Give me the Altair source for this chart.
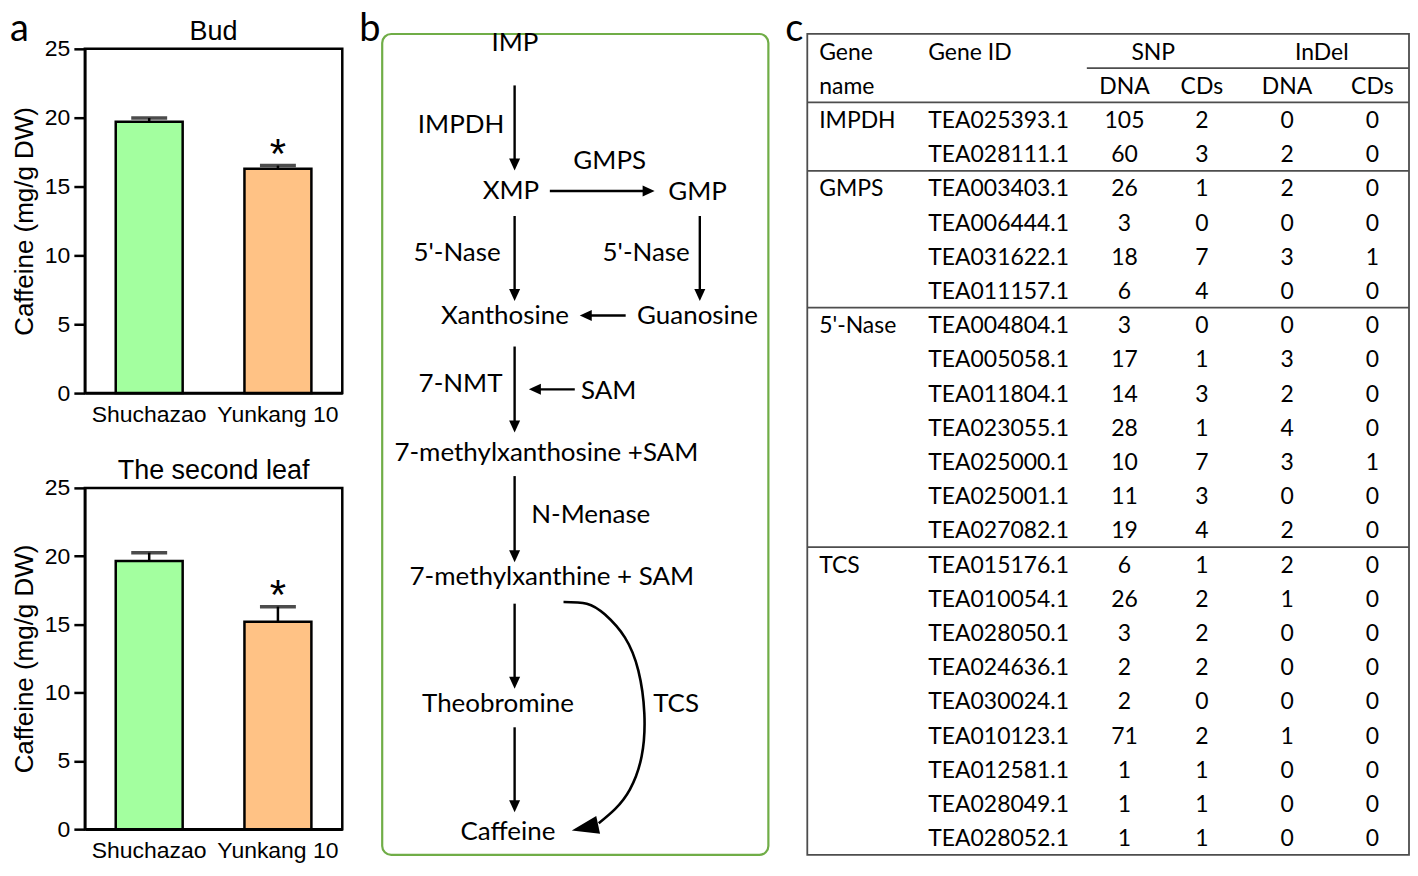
import altair as alt
import pandas as pd

AR = "Liberation Sans"
LT = "Lato"

# ---------------- panel a : caffeine content ----------------
cultivars = ["Shuchazao", "Yunkang 10"]
bud_mean = [19.7, 16.3]
bud_sd = [0.27, 0.22]
leaf_mean = [19.65, 15.2]
leaf_sd = [0.6, 1.1]
significance = ["", "*"]
bar_colors = ["#A3FF9F", "#FFC285"]
panel_titles = ["Bud", "The second leaf"]
panel_letters = ["a", "b", "c"]
y_ticks = [0, 5, 10, 15, 20, 25]

# ---------------- panel b : caffeine biosynthesis pathway ----------------
metabolites = ["IMP", "XMP", "GMP", "Xanthosine", "Guanosine",
               "7-methylxanthosine +SAM", "7-methylxanthine + SAM",
               "Theobromine", "Caffeine"]
enzymes = ["IMPDH", "GMPS", "5'-Nase", "5'-Nase", "7-NMT", "SAM", "N-Menase", "TCS"]

# ---------------- panel c : variants table ----------------
gene_names = ["IMPDH", "GMPS", "5'-Nase", "TCS"]
gene_counts = [2, 4, 7, 9]
gene_ids = ["TEA025393.1", "TEA028111.1",
            "TEA003403.1", "TEA006444.1", "TEA031622.1", "TEA011157.1",
            "TEA004804.1", "TEA005058.1", "TEA011804.1", "TEA023055.1",
            "TEA025000.1", "TEA025001.1", "TEA027082.1",
            "TEA015176.1", "TEA010054.1", "TEA028050.1", "TEA024636.1",
            "TEA030024.1", "TEA010123.1", "TEA012581.1", "TEA028049.1",
            "TEA028052.1"]
snp_dna = [105, 60, 26, 3, 18, 6, 3, 17, 14, 28, 10, 11, 19, 6, 26, 3, 2, 2, 71, 1, 1, 1]
snp_cds = [2, 3, 1, 0, 7, 4, 0, 1, 3, 1, 7, 3, 4, 1, 2, 2, 2, 0, 2, 1, 1, 1]
indel_dna = [0, 2, 2, 0, 3, 0, 0, 3, 2, 4, 3, 0, 2, 2, 1, 0, 0, 0, 1, 0, 0, 0]
indel_cds = [0, 0, 0, 0, 1, 0, 0, 0, 0, 0, 1, 0, 0, 0, 0, 0, 0, 0, 0, 0, 0, 0]
header_top = ["Gene", "Gene ID", "SNP", "InDel"]
header_sub = ["name", "DNA", "CDs", "DNA", "CDs"]

# ---------------- layout (not data) ----------------
A_W, A_H1, A_H2 = 258, 345, 342
A_GAP = 95                      # plot-to-plot gap in panel a
TOTAL_H = A_H1 + A_GAP + A_H2
A_VSP = 28
B_W, C_W, H_SP = 387, 603, 15
LETTER_Y = -8

# diagram frame (reference pixel frame of panel b)
B_XDOM = [380, 767]
B_YDOM = [48, 837]
metab_pos = [(513, 50), (509, 200), (696, 201), (503, 326), (696, 326),
             (544.5, 465), (550, 590), (496, 719), (506, 848)]
enz_pos = [(459, 133), (608, 170), (455, 263), (644.5, 263), (458.5, 395),
           (607, 402), (589, 527), (674.5, 719)]
arrow_paths = [(512.7, 85, 512.7, 171), (548, 191.7, 653, 191.7),
               (512.7, 217, 512.7, 303), (698.3, 217, 698.3, 303),
               (624, 317.7, 578, 317.7), (512.7, 349, 512.7, 436),
               (573, 392.3, 527, 392.3), (512.7, 480, 512.7, 567),
               (512.7, 609, 512.7, 695), (512.7, 734, 512.7, 820)]
tcs_curve = [(561.7, 607.3), (585, 609), (603.3, 620), (623.3, 643.3),
             (636.7, 676.7), (642.7, 720), (640, 763.3), (628.3, 796.7),
             (613.3, 816.7), (597, 831)]
tcs_head = (570, 838.3, 78)
green_box = (380, 33, 767, 863)

# table frame
C_XDOM = [806, 1413]
ROW_H = 34.52
C_YDOM = [-2.5 + (48 - 33) / ROW_H, 21.5 - (863 - 837) / ROW_H]
col_x = {"name": 818, "id": 928, "snp_dna": 1126, "snp_cds": 1204,
         "indel_dna": 1290, "indel_cds": 1376}
head_top_x = [818, 928, 1155, 1325]
head_sub_x = [818, 1126, 1204, 1290, 1376]
snp_line_x0 = 1088


def letter_layer(letter, x_px):
    return alt.Chart(pd.DataFrame({"t": [letter]})).mark_text(
        font=LT, fontSize=38, align="left", baseline="alphabetic",
        color="black").encode(x=alt.value(x_px), y=alt.value(LETTER_Y), text="t:N")


# ================= panel a =================
def bar_panel(title, means, sds, height, letter):
    df = pd.DataFrame({
        "cultivar": cultivars,
        "mean": means,
        "upper": [m + s for m, s in zip(means, sds)],
        "sig": significance,
        "color": bar_colors,
    })
    xscale = alt.Scale(paddingInner=0.48, paddingOuter=0.24)
    xaxis = alt.Axis(title=None, labelAngle=0, ticks=False, tickSize=0,
                     labelFont=AR, labelFontSize=23, labelColor="black",
                     labelPadding=10, domainColor="black", domainWidth=2.5)
    yscale = alt.Scale(domain=[0, 25], nice=False)
    yaxis = alt.Axis(title="Caffeine (mg/g DW)", values=y_ticks, format="d",
                     grid=False, tickSize=11, tickWidth=2.5, tickColor="black",
                     domainColor="black", domainWidth=2.5,
                     labelFont=AR, labelFontSize=23, labelColor="black",
                     labelPadding=4,
                     titleFont=AR, titleFontSize=26, titleFontWeight="normal",
                     titleColor="black", titleX=-52, titleY=height / 2,
                     titleBaseline="alphabetic")
    X = alt.X("cultivar:N", sort=cultivars, scale=xscale, axis=xaxis)
    base = alt.Chart(df)
    err = base.mark_rule(color="black", strokeWidth=2.5).encode(
        x=X, y=alt.Y("mean:Q", scale=yscale, axis=yaxis), y2="upper:Q")
    cap = base.mark_tick(color="black", size=36, thickness=3.5).encode(
        x=X, y=alt.Y("upper:Q", scale=yscale, axis=yaxis))
    bars = base.mark_bar(stroke="black", strokeWidth=2.5).encode(
        x=X, y=alt.Y("mean:Q", scale=yscale, axis=yaxis),
        color=alt.Color("color:N", scale=None))
    star = base.mark_text(font=AR, fontSize=42, baseline="alphabetic",
                          dy=2, color="black").encode(
        x=X, y=alt.Y("upper:Q", scale=yscale, axis=yaxis), text="sig:N")
    ttl = alt.Chart(pd.DataFrame({"t": [title]})).mark_text(
        font=AR, fontSize=27, align="center", baseline="alphabetic",
        color="black").encode(x=alt.value(A_W / 2), y=alt.value(-8.7), text="t:N")
    layers = [err, cap, bars, star, ttl]
    if letter:
        layers.append(letter_layer(letter, -75))
    return alt.layer(*layers).properties(
        width=A_W, height=height,
        view=alt.ViewBackground(stroke="black", strokeWidth=2.5),
    )


bud = bar_panel(panel_titles[0], bud_mean, bud_sd, A_H1, panel_letters[0])
leaf = bar_panel(panel_titles[1], leaf_mean, leaf_sd, A_H2, None)
panel_a = alt.vconcat(bud, leaf, spacing=A_VSP).resolve_scale(
    x="independent", y="independent")

# ================= panel b =================
bx = alt.Scale(domain=B_XDOM, nice=False, zero=False)
by = alt.Scale(domain=B_YDOM, nice=False, zero=False, reverse=True)

box_df = pd.DataFrame([dict(x=green_box[0], y=green_box[1], x2=green_box[2], y2=green_box[3])])
box = alt.Chart(box_df).mark_rect(fill="transparent", stroke="#70AD47",
                                  strokeWidth=2.2, cornerRadius=9).encode(
    x=alt.X("x:Q", scale=bx, axis=None), x2="x2:Q",
    y=alt.Y("y:Q", scale=by, axis=None), y2="y2:Q")

met_df = pd.DataFrame({"text": metabolites,
                       "x": [p[0] for p in metab_pos],
                       "y": [p[1] for p in metab_pos]})
enz_df = pd.DataFrame({"text": enzymes,
                       "x": [p[0] for p in enz_pos],
                       "y": [p[1] for p in enz_pos]})
labels_df = pd.concat([met_df, enz_df], ignore_index=True)
labels = alt.Chart(labels_df).mark_text(font=LT, fontSize=26, align="center",
                                        baseline="alphabetic", color="black").encode(
    x=alt.X("x:Q", scale=bx, axis=None), y=alt.Y("y:Q", scale=by, axis=None),
    text="text:N")

shafts, heads = [], []
HEAD_BACK = 7
for (x1, y1, x2, y2) in arrow_paths:
    dx, dy = x2 - x1, y2 - y1
    L = (dx * dx + dy * dy) ** 0.5
    ux, uy = dx / L, dy / L
    shafts.append(dict(x=x1, y=y1, x2=x2 - ux * HEAD_BACK, y2=y2 - uy * HEAD_BACK))
    if abs(ux) > abs(uy):
        ang = 270 if ux > 0 else 90
    else:
        ang = 0 if uy > 0 else 180
    heads.append(dict(x=x2, y=y2, angle=ang))
shaft = alt.Chart(pd.DataFrame(shafts)).mark_rule(color="black", strokeWidth=2.4).encode(
    x=alt.X("x:Q", scale=bx, axis=None), x2="x2:Q",
    y=alt.Y("y:Q", scale=by, axis=None), y2="y2:Q")
head = alt.Chart(pd.DataFrame(heads)).mark_point(
    shape="M-0.46,-1L0.46,-1L0,0Z", filled=True, opacity=1, color="black",
    size=576, strokeWidth=0).encode(
    x=alt.X("x:Q", scale=bx, axis=None), y=alt.Y("y:Q", scale=by, axis=None),
    angle=alt.Angle("angle:Q", scale=None))

curve_df = pd.DataFrame({"i": list(range(len(tcs_curve))),
                         "x": [p[0] for p in tcs_curve],
                         "y": [p[1] for p in tcs_curve]})
curve = alt.Chart(curve_df).mark_line(color="black", strokeWidth=2.6,
                                      interpolate="natural").encode(
    x=alt.X("x:Q", scale=bx, axis=None), y=alt.Y("y:Q", scale=by, axis=None),
    order="i:Q")
big_head = alt.Chart(pd.DataFrame([dict(x=tcs_head[0], y=tcs_head[1], angle=tcs_head[2])])).mark_point(
    shape="M-0.34,-1L0.34,-1L0,0Z", filled=True, opacity=1, color="black",
    size=2916, strokeWidth=0).encode(
    x=alt.X("x:Q", scale=bx, axis=None), y=alt.Y("y:Q", scale=by, axis=None),
    angle=alt.Angle("angle:Q", scale=None))

panel_b = alt.layer(box, shaft, head, curve, big_head, labels,
                    letter_layer(panel_letters[1], -23)).properties(
    width=B_W, height=TOTAL_H, view=alt.ViewBackground(strokeWidth=0))

# ================= panel c =================
cx = alt.Scale(domain=C_XDOM, nice=False, zero=False)
cy = alt.Scale(domain=C_YDOM, nice=False, zero=False, reverse=True)

names_per_row = []
for g, cnt in zip(gene_names, gene_counts):
    names_per_row += [g] + [""] * (cnt - 1)
n_rows = len(gene_ids)

left_cells, center_cells = [], []
for t, x in zip(header_top[:2], head_top_x[:2]):
    left_cells.append(dict(row=-2, x=x, text=t))
left_cells.append(dict(row=-1, x=head_sub_x[0], text=header_sub[0]))
for t, x in zip(header_top[2:], head_top_x[2:]):
    center_cells.append(dict(row=-2, x=x, text=t))
for t, x in zip(header_sub[1:], head_sub_x[1:]):
    center_cells.append(dict(row=-1, x=x, text=t))
for r in range(n_rows):
    if names_per_row[r]:
        left_cells.append(dict(row=r, x=col_x["name"], text=names_per_row[r]))
    left_cells.append(dict(row=r, x=col_x["id"], text=gene_ids[r]))
    for key, arr in (("snp_dna", snp_dna), ("snp_cds", snp_cds),
                     ("indel_dna", indel_dna), ("indel_cds", indel_cds)):
        center_cells.append(dict(row=r, x=col_x[key], text=str(arr[r])))

txt_kw = dict(font=LT, fontSize=23, baseline="alphabetic", dy=8.5, color="black")
left_txt = alt.Chart(pd.DataFrame(left_cells)).mark_text(align="left", **txt_kw).encode(
    x=alt.X("x:Q", scale=cx, axis=None), y=alt.Y("row:Q", scale=cy, axis=None),
    text="text:N")
center_txt = alt.Chart(pd.DataFrame(center_cells)).mark_text(align="center", **txt_kw).encode(
    x=alt.X("x:Q", scale=cx, axis=None), y=alt.Y("row:Q", scale=cy, axis=None),
    text="text:N")

bounds = [-0.5]
acc = 0
for cnt in gene_counts[:-1]:
    acc += cnt
    bounds.append(acc - 0.5)
hl = [dict(y=b, x=C_XDOM[0], x2=C_XDOM[1]) for b in bounds]
hl.append(dict(y=-1.5, x=snp_line_x0, x2=C_XDOM[1]))
hline = alt.Chart(pd.DataFrame(hl)).mark_rule(color="#4d4d4d", strokeWidth=1.8).encode(
    x=alt.X("x:Q", scale=cx, axis=None), x2="x2:Q",
    y=alt.Y("y:Q", scale=cy, axis=None))
tbox = alt.Chart(pd.DataFrame([dict(x=C_XDOM[0], x2=C_XDOM[1], y=-2.5, y2=n_rows - 0.5)])).mark_rect(
    fill="transparent", stroke="#4d4d4d", strokeWidth=1.8).encode(
    x=alt.X("x:Q", scale=cx, axis=None), x2="x2:Q",
    y=alt.Y("y:Q", scale=cy, axis=None), y2="y2:Q")

panel_c = alt.layer(tbox, hline, left_txt, center_txt,
                    letter_layer(panel_letters[2], -22)).properties(
    width=C_W, height=TOTAL_H, view=alt.ViewBackground(strokeWidth=0))

chart = alt.hconcat(panel_a, panel_b, panel_c, spacing=H_SP).resolve_scale(
    x="independent", y="independent").properties(padding=0).configure_view(strokeWidth=0)

chart.save("out.html", embed_options={"renderer": "svg", "actions": False})
